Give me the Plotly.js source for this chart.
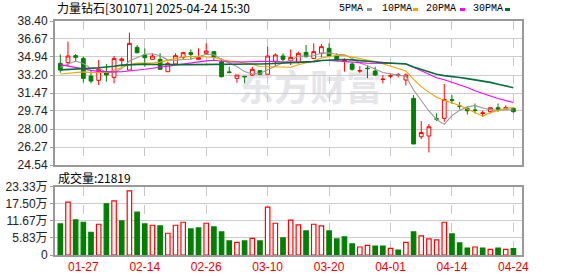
<!DOCTYPE html>
<html><head><meta charset="utf-8">
<script src="https://cdn.plot.ly/plotly-3.0.1.min.js"></script>
<style>html,body{margin:0;padding:0;background:#fff}#chart{width:578px;height:276px}</style>
</head><body><div id="chart"></div>
<script>
const dates = ['01-22','01-23','01-24','01-27','02-05','02-06','02-07','02-10','02-11','02-12',
 '02-13','02-14','02-17','02-18','02-19','02-20','02-21','02-24','02-25','02-26',
 '02-27','02-28','03-03','03-04','03-05','03-06','03-07','03-10','03-11','03-12',
 '03-13','03-14','03-17','03-18','03-19','03-20','03-21','03-24','03-25','03-26',
 '03-27','03-28','03-31','04-01','04-02','04-03','04-07','04-08','04-09','04-10',
 '04-11','04-14','04-15','04-16','04-17','04-18','04-21','04-22','04-23','04-24'];
const openP = [34.32,34.39,35.06,34.80,33.10,32.69,33.52,32.97,34.58,33.68,
 35.86,35.13,34.71,34.71,33.52,34.26,34.90,35.35,34.71,35.29,
 35.45,34.48,33.50,32.88,33.07,33.20,33.62,33.27,34.48,35.03,
 34.58,34.39,35.38,34.80,35.29,35.77,35.03,34.58,34.26,33.58,
 33.86,33.59,32.77,33.10,33.17,32.72,30.95,27.26,27.33,28.98,
 29.03,30.82,30.22,29.99,29.83,29.50,29.67,30.05,30.00,29.99];
const highP = [35.19,36.41,35.22,34.96,33.68,34.64,34.26,35.03,34.90,37.28,
 36.09,35.77,35.29,35.29,34.48,35.29,35.45,35.67,35.77,36.25,
 35.45,34.80,34.00,33.20,33.10,34.00,33.68,35.93,35.29,35.29,
 35.67,35.45,36.09,36.25,36.19,36.25,35.29,34.81,34.39,34.05,
 34.16,34.00,33.20,33.36,33.40,33.36,31.27,28.77,28.48,29.51,
 32.33,31.27,30.60,30.20,30.46,29.76,30.05,30.46,30.27,30.08];
const lowP = [33.42,34.07,34.48,32.49,32.40,32.24,32.56,32.40,34.00,33.68,
 35.29,34.00,34.71,33.68,33.52,34.16,34.64,34.71,34.71,35.19,
 34.64,32.97,33.36,32.46,32.40,33.10,33.20,33.27,34.00,34.48,
 34.16,34.32,34.90,34.80,34.90,34.96,34.58,33.52,33.62,33.40,
 32.90,33.10,32.40,32.90,32.97,32.20,26.56,27.04,25.75,28.77,
 28.70,30.40,29.90,29.40,29.50,29.18,29.50,29.66,29.83,29.57];
const closeP = [33.68,35.03,34.90,32.88,32.62,33.75,33.20,34.80,34.74,36.25,
 35.35,34.87,35.03,33.75,34.32,35.06,35.35,35.19,34.87,35.51,
 34.90,33.04,33.45,33.20,33.04,33.75,33.27,35.03,35.13,34.71,
 34.90,35.29,34.96,35.45,35.93,35.03,34.64,34.64,33.75,33.62,
 33.82,33.20,32.80,33.13,33.20,33.20,26.56,27.67,28.22,28.96,
 30.85,30.78,30.20,29.76,29.80,29.55,30.05,29.90,30.05,29.67];
const ma5 = [33.95,34.25,34.55,34.30,33.82,33.84,33.47,33.45,33.82,34.55,
 34.87,35.20,35.25,35.05,34.66,34.61,34.70,34.73,34.96,35.20,
 35.16,34.70,34.35,34.02,33.53,33.30,33.34,33.66,34.04,34.38,
 34.61,35.01,35.00,35.06,35.31,35.33,35.20,35.14,34.80,34.35,
 34.09,33.80,33.45,33.31,33.19,33.09,31.76,30.71,29.74,28.92,
 28.45,29.30,29.80,30.11,30.28,30.02,29.87,29.81,29.87,29.84];
const ma10 = [33.30,33.35,33.45,33.50,33.45,33.45,33.45,33.65,33.90,34.19,
 34.35,34.34,34.35,34.44,34.61,34.74,34.95,34.99,35.00,34.93,
 34.89,34.70,34.54,34.49,34.36,34.23,34.02,34.01,34.03,33.95,
 33.95,34.18,34.33,34.55,34.84,34.97,35.11,35.07,34.93,34.83,
 34.71,34.50,34.29,34.06,33.77,33.59,32.78,32.08,31.53,31.06,
 30.77,30.53,30.26,29.93,29.60,29.24,29.58,29.81,29.99,30.06];
const ma20 = [34.20,34.05,33.95,33.80,33.65,33.55,33.50,33.50,33.52,33.58,
 33.65,33.75,33.85,33.95,34.05,34.15,34.28,34.40,34.50,34.56,
 34.62,34.52,34.45,34.46,34.48,34.48,34.49,34.50,34.52,34.44,
 34.42,34.44,34.44,34.52,34.60,34.60,34.56,34.54,34.48,34.39,
 34.33,34.34,34.31,34.30,34.31,34.28,33.94,33.58,33.23,32.94,
 32.74,32.51,32.28,31.99,31.69,31.41,31.18,30.94,30.76,30.56];
const ma30 = [33.70,33.72,33.75,33.80,33.85,33.90,33.95,34.05,34.15,34.20,
 34.25,34.25,34.22,34.20,34.20,34.20,34.20,34.20,34.20,34.20,
 34.22,34.22,34.22,34.23,34.24,34.25,34.26,34.28,34.32,34.36,
 34.40,34.41,34.41,34.49,34.60,34.65,34.69,34.69,34.66,34.57,
 34.52,34.46,34.39,34.37,34.32,34.26,33.97,33.72,33.50,33.28,
 33.14,33.07,32.96,32.85,32.74,32.60,32.49,32.32,32.15,31.98];
// volume in 万 (10k shares)
const volume = [10.59,18.00,11.96,11.16,7.75,10.48,17.42,18.45,11.61,21.86,
 14.58,10.59,10.13,9.91,7.40,10.13,11.16,8.88,9.22,10.81,
 9.57,7.86,4.78,4.33,4.78,5.69,4.78,16.28,10.81,5.81,
 11.90,10.25,8.20,10.48,9.91,8.20,5.47,6.15,3.76,2.73,
 3.30,3.07,3.07,2.28,1.71,4.33,7.86,6.49,5.47,5.12,
 11.16,7.17,4.10,2.39,2.73,2.39,1.94,2.39,1.94,2.18];
const volUp = [0,1,0,0,0,1,0,1,0,1, 0,0,1,0,1,1,1,0,0,1,
 0,0,0,1,0,1,0,1,1,0, 1,1,0,1,1,0,0,0,0,1,
 1,0,0,1,0,1,0,1,1,1, 1,0,0,0,1,0,1,0,1,0];
const priceTicks = [24.54,26.27,28.00,29.74,31.47,33.20,34.94,36.67,38.40];
const volTicks = [0,5.83,11.67,17.50,23.33];
const volTickText = ['0','5.83万','11.67万','17.50万','23.33万'];
const dateTicks = ['01-27','02-14','02-26','03-10','03-20','04-01','04-14','04-24'];
const titleText = '力量钻石[301071] 2025-04-24 15:30';
const volLabel = '成交量:21819';
const maNames = ['5PMA','10PMA','20PMA','30PMA'];
const maColors = ['#999999','#f5a200','#ff00ff','#00703a'];

const RED = '#ff0000', GREEN = '#008000';
const W = 578, H = 276, L = 55, R = 56, T = 21, B = 21;
const pw = W - L - R, ph = H - T - B;
const px = v => (v - L) / pw;
const py = v => (H - B - v) / ph;
const FONT = 'Liberation Sans, Arial, Noto Sans CJK SC, sans-serif';
const MONO = 'Liberation Mono, DejaVu Sans Mono, monospace';
const CJK = 'Noto Sans CJK SC, sans-serif';

const traces = [];
traces.push({
  type: 'candlestick', x: dates, open: openP, high: highP, low: lowP, close: closeP,
  xaxis: 'x2', yaxis: 'y', whiskerwidth: 0, hoverinfo: 'skip',
  increasing: {line: {color: RED, width: 1}, fillcolor: '#ffffff'},
  decreasing: {line: {color: GREEN, width: 1}, fillcolor: GREEN}
});
[ma5, ma10, ma20, ma30].forEach((m, k) => traces.push({
  type: 'scatter', mode: 'lines', x: dates, y: m, xaxis: 'x2', yaxis: 'y',
  line: {color: maColors[k], width: k === 3 ? 1.6 : 1.1}, hoverinfo: 'skip'
}));
traces.push({
  type: 'bar', x: dates, y: volume, xaxis: 'x', yaxis: 'y2', width: 0.58,
  marker: {color: volUp.map(u => u ? '#ffffff' : GREEN),
           line: {color: volUp.map(u => u ? RED : GREEN), width: 1.2}},
  hoverinfo: 'skip'
});

const xbase = {
  type: 'category', range: [-0.69, 60.12], categoryorder: 'array', categoryarray: dates,
  tickvals: dateTicks, ticktext: dateTicks, showgrid: true, gridcolor: '#c8c8c8',
  griddash: 'dash', gridwidth: 1, showline: true, mirror: true, linecolor: '#999999',
  linewidth: 2, ticks: '', zeroline: false, fixedrange: true
};
const annotations = [
  {text: titleText, xref: 'paper', yref: 'paper', x: px(55), y: py(8), xanchor: 'left', yanchor: 'middle',
   showarrow: false, font: {family: CJK, size: 12, color: '#000'}},
  {text: volLabel, xref: 'paper', yref: 'paper', x: px(56), y: py(177), xanchor: 'left', yanchor: 'middle',
   showarrow: false, font: {family: CJK, size: 12, color: '#000'}}
];
const shapes = [
  {type: 'rect', xref: 'paper', yref: 'paper', x0: px(235), x1: px(385), y0: py(110), y1: py(72),
   line: {width: 0}, fillcolor: 'rgba(0,0,0,0)', layer: 'below',
   label: {text: '东方财富', font: {family: CJK, size: 36, color: '#e6e6ea', weight: 'bold'}, textposition: 'middle center'}}
];
const legX = [337, 380, 424, 471], legM = [367, 413, 460, 505];
maNames.forEach((n, k) => {
  annotations.push({text: n, xref: 'paper', yref: 'paper', x: px(legX[k]), y: py(9), xanchor: 'left', yanchor: 'middle',
    showarrow: false, font: {family: MONO, size: 10, color: '#000'}});
  shapes.push({type: 'rect', xref: 'paper', yref: 'paper', x0: px(legM[k]), x1: px(legM[k] + 5),
    y0: py(11), y1: py(8), line: {width: 0}, fillcolor: maColors[k]});
});

const layout = {
  width: W, height: H, margin: {l: L, r: R, t: T, b: B, pad: 0},
  paper_bgcolor: '#fff', plot_bgcolor: '#fff', showlegend: false,
  font: {family: FONT, size: 12, color: '#222'},
  xaxis: Object.assign({}, xbase, {anchor: 'y2', tickfont: {color: '#ee0000', size: 12, family: FONT}}),
  xaxis2: Object.assign({}, xbase, {anchor: 'y', matches: 'x', showticklabels: false, rangeslider: {visible: false}}),
  yaxis: {domain: [py(165), 1], range: [24.54, 38.40], tickvals: priceTicks, ticktext: priceTicks.map(v => v.toFixed(2)),
    showgrid: true, gridcolor: '#cccccc', showline: true, mirror: true, linecolor: '#999999', linewidth: 2,
    ticks: 'outside', ticklen: 3, tickcolor: '#999999', zeroline: false, fixedrange: true,
    tickfont: {size: 12, color: '#222', family: FONT}},
  yaxis2: {domain: [0, py(186.5)], range: [0, 23.33], tickvals: volTicks, ticktext: volTickText,
    showgrid: true, gridcolor: '#cccccc', showline: true, mirror: true, linecolor: '#999999', linewidth: 2,
    ticks: 'outside', ticklen: 3, tickcolor: '#999999', zeroline: false, fixedrange: true,
    tickfont: {size: 12, color: '#222', family: FONT}},
  annotations: annotations, shapes: shapes
};
Plotly.newPlot('chart', traces, layout, {staticPlot: true, displayModeBar: false});
</script>
</body></html>
